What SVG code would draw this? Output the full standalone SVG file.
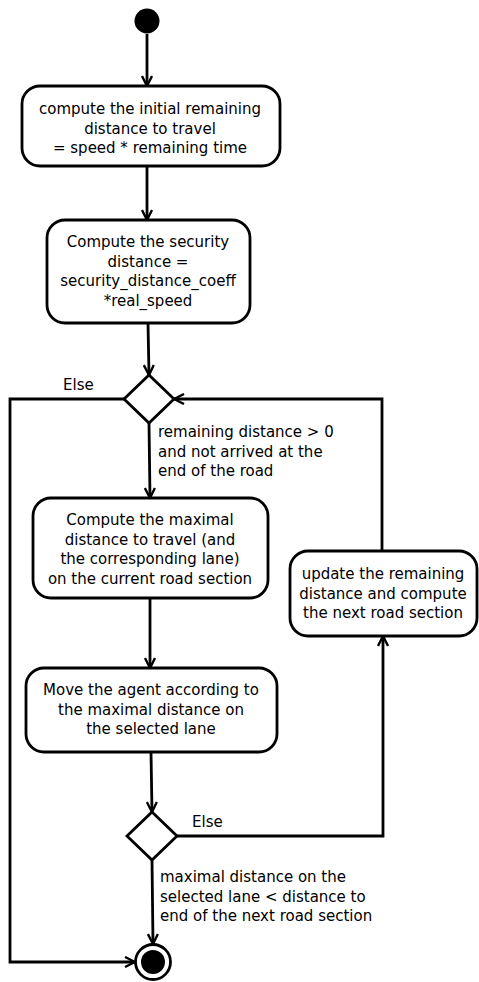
<svg xmlns="http://www.w3.org/2000/svg" width="479" height="982" viewBox="0 0 479 982">
<style>
  .box { fill: #fff; stroke: #000; stroke-width: 2.8; }
  .dia { fill: #fff; stroke: #000; stroke-width: 2.8; stroke-linejoin: miter; }
  .t { font-family: "DejaVu Sans", Verdana, sans-serif; font-size: 15px; fill: #000; }
  .c { text-anchor: middle; }
  .edge { fill: none; stroke: #000; stroke-width: 2.8; }
</style>
<defs>
  <marker id="arr" viewBox="0 0 12 12" refX="11" refY="6" markerWidth="12" markerHeight="12" markerUnits="userSpaceOnUse" orient="auto">
    <path d="M1,1 L11,6 L1,11" fill="none" stroke="#000" stroke-width="2.4"/>
  </marker>
</defs>
<rect width="479" height="982" fill="#fff"/>

<g id="connectors">
  <path class="edge" d="M147,34 L147,86" marker-end="url(#arr)"/>
  <path class="edge" d="M147,166 L147,220" marker-end="url(#arr)"/>
  <path class="edge" d="M148,323 L149,375" marker-end="url(#arr)"/>
  <path class="edge" d="M149,423 L150,498" marker-end="url(#arr)"/>
  <path class="edge" d="M124,399 L10,399 L10,962 L135,962" marker-end="url(#arr)"/>
  <path class="edge" d="M382,551 L382,399 L174,399" marker-end="url(#arr)"/>
  <path class="edge" d="M150,598 L150,668" marker-end="url(#arr)"/>
  <path class="edge" d="M151,752 L152,812" marker-end="url(#arr)"/>
  <path class="edge" d="M177,836 L383,836 L383,636" marker-end="url(#arr)"/>
  <path class="edge" d="M152,860 L153,944" marker-end="url(#arr)"/>
  <text class="t" x="63" y="390">Else</text>
  <text class="t" x="158" y="437">remaining distance &gt; 0</text>
  <text class="t" x="158" y="456.5">and not arrived at the</text>
  <text class="t" x="158" y="476">end of the road</text>
  <text class="t" x="192" y="827">Else</text>
  <text class="t" x="160" y="882">maximal distance on the</text>
  <text class="t" x="160" y="901.5">selected lane &lt; distance to</text>
  <text class="t" x="160" y="921">end of the next road section</text>
</g>

<g id="start">
  <circle cx="147" cy="21" r="12.5" fill="#000"/>
</g>

<g id="initDistance">
  <rect class="box" x="22" y="86" width="258" height="80" rx="18" ry="18"/>
  <text class="t c" x="150" y="114">compute the initial remaining</text>
  <text class="t c" x="150" y="133.5">distance to travel</text>
  <text class="t c" x="150" y="153">= speed * remaining time</text>
</g>

<g id="securityDistance">
  <rect class="box" x="47" y="220" width="203" height="103" rx="18" ry="18"/>
  <text class="t c" x="148" y="247">Compute the security</text>
  <text class="t c" x="148" y="266.5">distance =</text>
  <text class="t c" x="148" y="286">security_distance_coeff</text>
  <text class="t c" x="148" y="305.5">*real_speed</text>
</g>

<g id="decision1">
  <polygon class="dia" points="149,375 174,399 149,423 124,399"/>
</g>

<g id="maxDistance">
  <rect class="box" x="33" y="498" width="235" height="100" rx="18" ry="18"/>
  <text class="t c" x="150" y="525">Compute the maximal</text>
  <text class="t c" x="150" y="544.5">distance to travel (and</text>
  <text class="t c" x="150" y="564">the corresponding lane)</text>
  <text class="t c" x="150" y="583.5">on the current road section</text>
</g>

<g id="moveAgent">
  <rect class="box" x="26" y="668" width="251" height="84" rx="18" ry="18"/>
  <text class="t c" x="151" y="695">Move the agent according to</text>
  <text class="t c" x="151" y="714.5">the maximal distance on</text>
  <text class="t c" x="151" y="734">the selected lane</text>
</g>

<g id="updateDistance">
  <rect class="box" x="290" y="551" width="187" height="85" rx="18" ry="18"/>
  <text class="t c" x="383" y="579">update the remaining</text>
  <text class="t c" x="383" y="598.5">distance and compute</text>
  <text class="t c" x="383" y="618">the next road section</text>
</g>

<g id="decision2">
  <polygon class="dia" points="152,812 177,836 152,860 127,836"/>
</g>

<g id="end">
  <circle cx="153" cy="962" r="17.5" fill="#fff" stroke="#000" stroke-width="2.8"/>
  <circle cx="153" cy="962" r="12" fill="#000"/>
</g>
</svg>
